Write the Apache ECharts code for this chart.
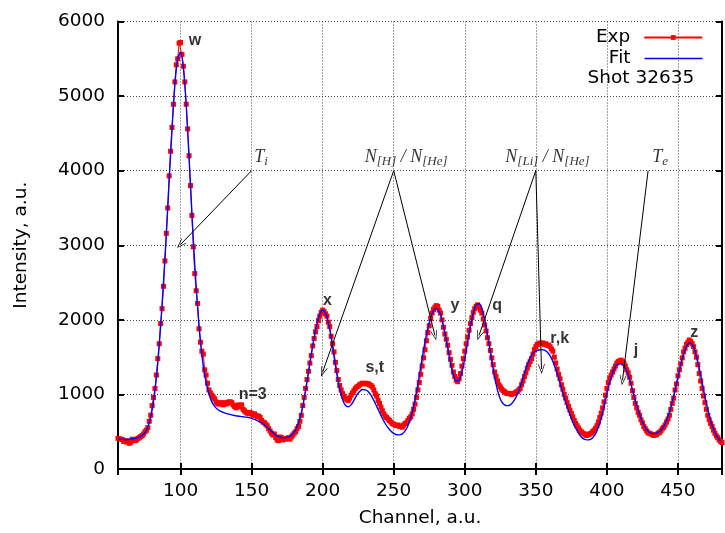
<!DOCTYPE html>
<html><head><meta charset="utf-8">
<script src="https://cdn.jsdelivr.net/npm/echarts@6/dist/echarts.min.js"></script>
<style>html,body{margin:0;padding:0;background:#fff}#c{width:725px;height:533px}</style>
</head><body><div id="c"></div>
<script>
// ---- data ----
const expStart = 56; // first channel of the measured spectrum, one value per channel
const expValues = [
410,405,400,395,370,380,360,375,345,360,
400,395,380,390,410,420,435,450,470,500,
520,555,640,720,850,960,1080,1260,1480,1680,
1950,2150,2450,2790,3160,3500,3930,4260,4580,4890,
5190,5420,5500,5710,5720,5560,5400,5190,4890,4560,
4200,3800,3400,2980,2620,2390,2220,1880,1700,1580,
1540,1330,1260,1150,1060,1020,990,965,940,900,
880,870,890,880,860,890,870,880,900,900,
890,860,840,820,850,860,830,860,800,780,
760,750,740,760,745,720,740,720,700,710,
690,650,630,620,600,580,540,510,480,455,
470,420,390,380,430,420,390,410,400,410,
420,400,430,455,480,500,540,570,640,720,
850,960,1080,1200,1310,1420,1520,1650,1750,1840,
1910,1990,2050,2100,2130,2110,2080,2050,1970,1910,
1780,1680,1570,1430,1320,1200,1120,1060,1010,975,
950,930,920,950,990,1020,1050,1080,1100,1110,
1130,1140,1150,1145,1150,1140,1145,1130,1120,1100,
1060,1010,980,920,880,830,780,740,710,690,
670,650,630,610,600,590,580,590,575,570,
560,590,610,620,650,680,700,740,800,870,
960,1060,1160,1270,1380,1490,1600,1720,1830,1920,
2020,2090,2140,2170,2190,2180,2130,2090,2000,1900,
1810,1740,1660,1560,1470,1390,1300,1240,1190,1170,
1210,1280,1380,1480,1580,1680,1770,1860,1950,2030,
2100,2150,2180,2200,2170,2130,2090,2010,1930,1850,
1760,1680,1590,1490,1400,1300,1240,1180,1130,1100,
1070,1050,1035,1020,1010,1015,1010,1000,1010,1015,
1030,1040,1060,1080,1130,1180,1240,1290,1350,1400,
1440,1480,1540,1600,1640,1670,1680,1690,1680,1690,
1670,1680,1660,1660,1640,1610,1580,1500,1420,1340,
1270,1210,1130,1070,1000,950,890,840,790,745,
700,650,610,580,550,520,500,480,470,455,
450,465,470,480,500,520,545,580,630,690,
750,820,900,990,1080,1160,1220,1260,1300,1340,
1380,1420,1440,1450,1460,1440,1420,1380,1330,1290,
1230,1150,1050,960,880,820,760,720,660,620,
570,540,510,485,478,470,460,450,455,460,
480,490,510,540,560,590,630,670,720,800,
880,950,1060,1140,1250,1330,1410,1490,1570,1620,
1670,1700,1730,1710,1680,1640,1570,1500,1400,1280,
1180,1080,980,890,800,720,660,610,570,520,
480,445,420,390,370,355
];
const fitStart = 56; // fit curve sampled every 2 channels
const fitStep = 2;
const fitValues = [
400,400,395,395,400,405,410,420,440,470,
520,620,790,1050,1420,1920,2500,3150,3870,4550,
5150,5500,5590,5380,4880,4180,3430,2740,2170,1720,
1380,1160,1010,900,840,800,775,760,745,735,
725,718,710,705,700,695,688,678,665,650,
630,605,575,540,505,470,445,428,420,420,
430,455,495,570,680,840,1050,1290,1540,1760,
1950,2080,2130,2090,1960,1760,1510,1270,1070,930,
855,835,860,920,990,1040,1065,1060,1040,990,
920,840,760,680,610,555,510,478,460,458,
470,510,580,690,840,1030,1250,1480,1700,1890,
2030,2120,2150,2110,2000,1830,1620,1420,1260,1180,
1190,1300,1480,1700,1910,2090,2200,2220,2150,2000,
1800,1570,1340,1140,990,900,860,850,860,900,
960,1050,1160,1280,1400,1490,1550,1580,1595,1600,
1595,1570,1520,1440,1340,1220,1090,960,840,730,
630,550,480,430,400,390,395,420,470,560,
680,840,1010,1170,1290,1370,1410,1410,1380,1310,
1200,1060,920,790,680,590,530,490,475,475,
490,520,570,650,760,900,1060,1230,1400,1540,
1640,1690,1670,1580,1440,1260,1060,880,720,590,
490,420,370
];
const xRange = [56, 481];
const xTicks = [100, 150, 200, 250, 300, 350, 400, 450];
const yTicks = [0, 1000, 2000, 3000, 4000, 5000, 6000];
const seriesNames = ['Exp', 'Fit'];
const shotText = 'Shot 32635';
const xName = 'Channel, a.u.';
const yName = 'Intensity, a.u.';
const peakLabels = ['w', 'x', 'n=3', 's,t', 'y', 'q', 'r,k', 'j', 'z'];
const peakLabelPos = [[110.1,5743],[203.4,2262],[150.8,1004],[236.7,1365],[293.1,2189],[322.8,2189],[366.8,1747],[420.5,1590],[461.5,1827]];
const paramLabels = ['{m|T}{s|i}', '{m|N}{s|[H]}{m| / N}{s|[He]}', '{m|N}{s|[Li]}{m| / N}{s|[He]}', '{m|T}{s|e}'];
const paramLabelPos = [[156.6,4185],[258.7,4185],[358.2,4185],[437.4,4185]];
const arrowFrom = [[150,4000],[250,4000],[250,4000],[350,4000],[350,4000],[429,4000]];
const arrowTo = [[100,3010],[200,1300],[279,1790],[310,1790],[354,1340],[411,1190]];

// ---- build chart ----
const SANS = 'DejaVu Sans';
const FS = 18.5;
const expData = expValues.map((v, i) => [expStart + i, v]);
const fitData = fitValues.map((v, i) => [fitStart + i * fitStep, v]);

const baseAxisLine = { show: true, lineStyle: { color: '#000', width: 2 } };
const tickIn = { show: true, inside: true, length: 6, lineStyle: { color: '#000', width: 2 } };
const gridLine = { show: true, lineStyle: { color: '#444', width: 1, type: [1, 2] } };

const chart = echarts.init(document.getElementById('c'), null, { renderer: 'canvas' });
chart.setOption({
  animation: false,
  backgroundColor: '#fff',
  grid: { left: 118, right: 1, top: 21.5, bottom: 64, containLabel: false },
  legend: [
    { data: [seriesNames[0]], right: 21.7, top: 28, padding: 0, align: 'right', orient: 'vertical',
      itemWidth: 58, itemHeight: 6, selectedMode: false,
      textStyle: { fontFamily: SANS, fontSize: FS, color: '#000', padding: [0, 9, 0, 0] } },
    { data: [seriesNames[1]], right: 21.7, top: 49, padding: 0, align: 'right', orient: 'vertical',
      itemWidth: 58, itemHeight: 6, selectedMode: false, itemStyle: { opacity: 0 },
      lineStyle: { color: '#0000ff', width: 1.5, opacity: 1 },
      textStyle: { fontFamily: SANS, fontSize: FS, color: '#000', padding: [0, 9, 0, 0] } }
  ],
  graphic: [
    { type: 'text', right: 30.7, top: 69, style: { text: shotText, font: FS + 'px "' + SANS + '"', fill: '#000' } }
  ],
  xAxis: [
    { type: 'value', min: xRange[0], max: xRange[1], splitNumber: 8, position: 'bottom',
      name: xName, nameLocation: 'middle', nameGap: 40,
      nameTextStyle: { fontFamily: SANS, fontSize: FS, color: '#000' },
      axisLine: baseAxisLine, axisTick: tickIn, splitLine: gridLine,
      axisLabel: { fontFamily: SANS, fontSize: FS, color: '#000', margin: 13,
        formatter: v => xTicks.includes(v) ? String(v) : '' } },
    { type: 'value', min: xRange[0], max: xRange[1], splitNumber: 8, position: 'top',
      axisLine: baseAxisLine, axisTick: tickIn, splitLine: { show: false }, axisLabel: { show: false } }
  ],
  yAxis: [
    { type: 'value', min: yTicks[0], max: yTicks[yTicks.length - 1], interval: 1000, position: 'left',
      name: yName, nameLocation: 'middle', nameGap: 87,
      nameTextStyle: { fontFamily: SANS, fontSize: FS, color: '#000' },
      axisLine: baseAxisLine, axisTick: tickIn, splitLine: gridLine,
      axisLabel: { fontFamily: SANS, fontSize: FS, color: '#000', margin: 13,
        formatter: v => yTicks.includes(v) ? String(v) : '' } },
    { type: 'value', min: yTicks[0], max: yTicks[yTicks.length - 1], interval: 1000, position: 'right',
      axisLine: baseAxisLine, axisTick: tickIn, splitLine: { show: false }, axisLabel: { show: false } }
  ],
  series: [
    { name: seriesNames[0], type: 'line', data: expData, symbol: 'rect', symbolSize: 5, showSymbol: true,
      lineStyle: { color: '#ff0000', width: 1 }, itemStyle: { color: '#ff0000' }, z: 2, silent: true },
    { name: seriesNames[1], type: 'line', data: fitData, symbol: 'none', smooth: 0.3,
      lineStyle: { color: '#0000ff', width: 1.4 }, itemStyle: { color: '#0000ff' }, z: 3, silent: true,
      markLine: {
        silent: true, animation: false,
        symbol: ['none', 'path://M0,10L5,0L10,10L9,10L5,2L1,10Z'], symbolSize: [7, 10],
        lineStyle: { color: '#000', width: 1, type: 'solid' },
        label: { show: false }, emphasis: { disabled: true },
        data: arrowFrom.map((f, i) => [{ coord: f }, { coord: arrowTo[i] }])
      } },
    { type: 'scatter', silent: true, z: 5, symbolSize: 1, itemStyle: { color: 'rgba(0,0,0,0)' },
      data: peakLabels.map((t, i) => ({ value: peakLabelPos[i], label: { formatter: t } })),
      label: { show: true, position: 'inside', fontFamily: 'Liberation Sans', fontWeight: 'bold', fontSize: 16, color: '#000' } },
    { type: 'scatter', silent: true, z: 5, symbolSize: 1, itemStyle: { color: 'rgba(0,0,0,0)' },
      data: paramLabels.map((t, i) => ({ value: paramLabelPos[i], label: { formatter: t } })),
      label: { show: true, position: 'inside', color: '#000',
        rich: {
          m: { fontFamily: 'Liberation Serif', fontStyle: 'italic', fontSize: 18, color: '#000' },
          s: { fontFamily: 'Liberation Serif', fontStyle: 'italic', fontSize: 13, color: '#000', padding: [10, 0, 0, 0] }
        } } }
  ]
});
</script></body></html>
